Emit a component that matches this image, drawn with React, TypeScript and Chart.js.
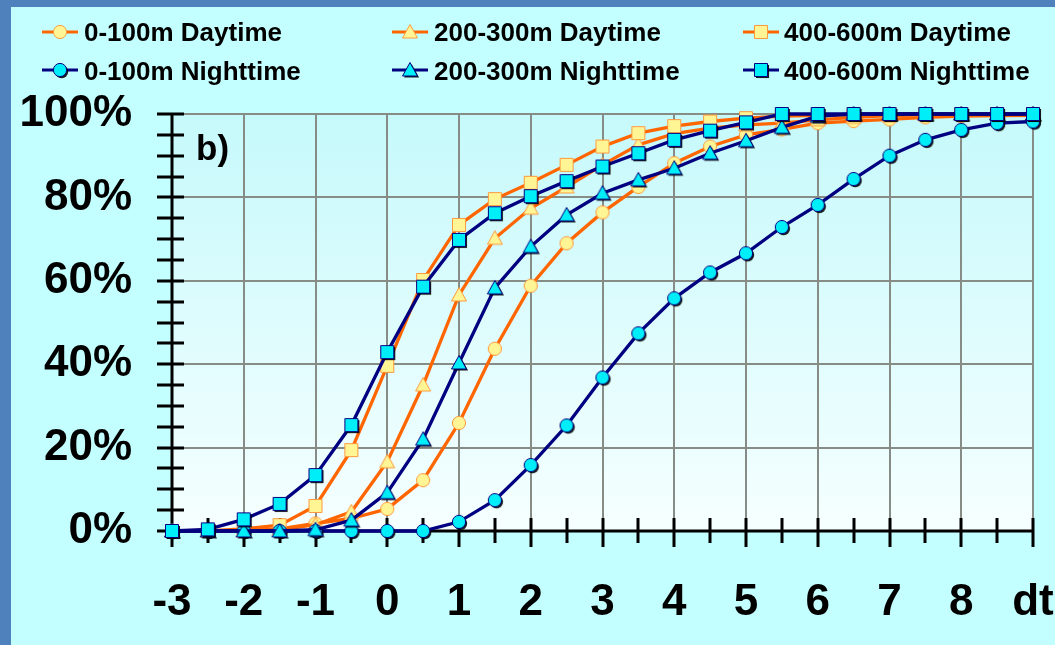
import React, { useEffect, useRef } from "react";
import { Chart, registerables } from "chart.js";

Chart.register(...registerables);

const xValues = [-3, -2.5, -2, -1.5, -1, -0.5, 0, 0.5, 1, 1.5, 2, 2.5, 3, 3.5, 4, 4.5, 5, 5.5, 6, 6.5, 7, 7.5, 8, 8.5, 9];

const day0to100 = [0, 0, 0, 0.5, 1.8, 3, 5.3, 12.2, 25.9, 43.7, 58.8, 69, 76.4, 82.5, 88.2, 92.2, 95, 96.3, 97.8, 98.3, 98.7, 99.2, 99.5, 99.6, 99.7];
const day200to300 = [0, 0, 0, 0.3, 1.5, 4.6, 16.6, 35, 56.6, 70.2, 77.4, 82.5, 87.8, 92.6, 95.3, 96.6, 97.4, 97.8, 98.6, 99.2, 99.6, 99.8, 100, 100, 100];
const day400to600 = [0, 0, 0.5, 1.4, 6, 19.4, 39.6, 60.2, 73.4, 79.6, 83.5, 87.8, 92.2, 95.4, 97.1, 98.2, 99, 99.5, 99.7, 99.8, 100, 100, 100, 100, 100];
const night0to100 = [0, 0, 0, 0, 0, 0, 0, 0, 2.2, 7.4, 15.8, 25.3, 36.8, 47.4, 55.8, 62, 66.6, 72.9, 78.2, 84.4, 90, 93.8, 96.2, 97.8, 98.2];
const night200to300 = [0, 0, 0, 0, 0.3, 2.6, 9.2, 22, 40.3, 58.3, 68.2, 75.8, 81, 84.2, 87, 90.6, 93.6, 96.8, 99.5, 100, 100, 100, 100, 100, 100];
const night400to600 = [0, 0.4, 2.8, 6.5, 13.4, 25.4, 42.9, 58.6, 69.8, 76.2, 80.3, 83.9, 87.4, 90.6, 93.8, 96, 98, 100, 100, 100, 100, 100, 100, 100, 100];

const xTickLabels = ["-3", "-2", "-1", "0", "1", "2", "3", "4", "5", "6", "7", "8", "dt"];
const yTickValues = [0, 20, 40, 60, 80, 100];
const seriesLabels = [
  "0-100m Daytime",
  "200-300m Daytime",
  "400-600m Daytime",
  "0-100m Nighttime",
  "200-300m Nighttime",
  "400-600m Nighttime",
];
const panelLabel = "b)";

const FONT = '"Liberation Sans", Arial, sans-serif';
const ORANGE = "#FF6600";
const NAVY = "#000080";
const DAY_FILL = "#FFF595";
const DAY_STROKE = "#FF9A3C";
const NIGHT_FILL = "#00EEF8";

function makeMarker(shape: string, fill: string, stroke: string, shadow: boolean): HTMLCanvasElement {
  const c = document.createElement("canvas");
  c.width = 26;
  c.height = 26;
  const g = c.getContext("2d")!;
  g.translate(13, 13);
  g.beginPath();
  if (shape === "circle") {
    g.arc(0, 0, 6.6, 0, Math.PI * 2);
  } else if (shape === "square") {
    g.rect(-6.5, -6.5, 13, 13);
  } else {
    g.moveTo(0, -7.5);
    g.lineTo(7.5, 6);
    g.lineTo(-7.5, 6);
    g.closePath();
  }
  if (shadow) {
    g.save();
    g.shadowColor = "rgba(0,0,0,0.9)";
    g.shadowOffsetX = 1.6;
    g.shadowOffsetY = 1.6;
    g.shadowBlur = 0.6;
    g.fillStyle = fill;
    g.fill();
    g.restore();
  } else {
    g.fillStyle = fill;
    g.fill();
  }
  g.lineWidth = 1;
  g.strokeStyle = stroke;
  g.stroke();
  return c;
}

export default function App() {
  const canvasRef = useRef<HTMLCanvasElement | null>(null);

  useEffect(() => {
    if (!canvasRef.current) return;
    Chart.defaults.font.family = FONT;

    const markers = [
      makeMarker("circle", DAY_FILL, DAY_STROKE, false),
      makeMarker("triangle", DAY_FILL, DAY_STROKE, false),
      makeMarker("square", DAY_FILL, DAY_STROKE, false),
      makeMarker("circle", NIGHT_FILL, NAVY, true),
      makeMarker("triangle", NIGHT_FILL, NAVY, true),
      makeMarker("square", NIGHT_FILL, NAVY, true),
    ];
    const seriesValues = [day0to100, day200to300, day400to600, night0to100, night200to300, night400to600];
    const colors = [ORANGE, ORANGE, ORANGE, NAVY, NAVY, NAVY];
    const orders = [5, 4, 3, 2, 1, 0];

    const datasets = seriesValues.map((vals, i) => ({
      label: seriesLabels[i],
      data: vals.map((y, j) => ({ x: xValues[j], y })),
      borderColor: colors[i],
      backgroundColor: colors[i],
      borderWidth: 3.3,
      pointStyle: markers[i],
      pointRadius: 7,
      tension: 0,
      clip: false as any,
      order: orders[i],
    }));

    const backgroundPlugin = {
      id: "bgPlugin",
      beforeDraw(chart: any) {
        const { ctx, width, height, chartArea } = chart;
        ctx.save();
        ctx.fillStyle = "#C4FFFF";
        ctx.fillRect(0, 0, width, height);
        ctx.fillStyle = "#4F81BD";
        ctx.fillRect(0, 0, 11, height);
        ctx.fillRect(0, 0, width, 7);
        const grad = ctx.createLinearGradient(0, chartArea.top, 0, chartArea.bottom);
        grad.addColorStop(0, "#C6F9FB");
        grad.addColorStop(1, "#F6FFFF");
        ctx.fillStyle = grad;
        ctx.fillRect(chartArea.left, chartArea.top, chartArea.right - chartArea.left, chartArea.bottom - chartArea.top);
        ctx.restore();
      },
    };

    const axesPlugin = {
      id: "axesPlugin",
      beforeDatasetsDraw(chart: any) {
        const { ctx, chartArea, scales } = chart;
        const { left, right, top, bottom } = chartArea;
        ctx.save();
        ctx.strokeStyle = "#000";
        ctx.lineWidth = 3;
        ctx.beginPath();
        ctx.moveTo(left, top);
        ctx.lineTo(left, bottom);
        ctx.moveTo(left, bottom);
        ctx.lineTo(right, bottom);
        for (let v = 0; v <= 100; v += 5) {
          const py = Math.round(scales.y.getPixelForValue(v));
          ctx.moveTo(left - 15, py);
          ctx.lineTo(left + 12, py);
        }
        for (let v = -3; v <= 9; v += 0.5) {
          const px = Math.round(scales.x.getPixelForValue(v));
          const major = Number.isInteger(v);
          ctx.moveTo(px, bottom - 13);
          ctx.lineTo(px, bottom + (major ? 16 : 12));
        }
        ctx.stroke();
        ctx.restore();
      },
    };

    const legendPlugin = {
      id: "legendPlugin",
      afterDraw(chart: any) {
        const { ctx } = chart;
        ctx.save();
        const sampleX = [42, 392, 743];
        const textX = [84, 434, 784];
        const lineY = [32, 70];
        const baseY = [41, 80];
        for (let i = 0; i < 6; i++) {
          const col = i % 3;
          const row = Math.floor(i / 3);
          ctx.strokeStyle = colors[i];
          ctx.lineWidth = 3;
          ctx.beginPath();
          ctx.moveTo(sampleX[col], lineY[row]);
          ctx.lineTo(sampleX[col] + 36, lineY[row]);
          ctx.stroke();
          const m = markers[i];
          ctx.drawImage(m, sampleX[col] + 18 - m.width / 2, lineY[row] - m.height / 2);
          ctx.fillStyle = "#000";
          ctx.font = "bold 26px " + FONT;
          ctx.textAlign = "left";
          ctx.textBaseline = "alphabetic";
          ctx.fillText(seriesLabels[i], textX[col], baseY[row]);
        }
        ctx.font = "bold 35px " + FONT;
        ctx.fillText(panelLabel, 196, 160);
        ctx.restore();
      },
    };

    const chart = new Chart(canvasRef.current, {
      type: "line",
      data: { datasets: datasets as any },
      options: {
        animation: false,
        responsive: true,
        maintainAspectRatio: false,
        devicePixelRatio: 1,
        layout: { padding: { top: 114, right: 22, left: 0, bottom: 0 } },
        plugins: { legend: { display: false }, tooltip: { enabled: false } },
        scales: {
          x: {
            type: "linear",
            min: -3,
            max: 9,
            afterBuildTicks: (scale: any) => {
              scale.ticks = xTickLabels.map((_, i) => ({ value: -3 + i }));
            },
            afterFit: (scale: any) => {
              scale.height = 114;
              scale.paddingLeft = 0;
              scale.paddingRight = 0;
            },
            ticks: {
              autoSkip: false,
              maxRotation: 0,
              padding: 45,
              color: "#000",
              font: { size: 44, weight: "bold", family: FONT },
              callback: (_v: any, i: number) => xTickLabels[i],
            },
            grid: {
              drawTicks: false,
              lineWidth: 2,
              color: (c: any) => (c.tick && c.tick.value === -3 ? "rgba(0,0,0,0)" : "#878C87"),
            },
            border: { display: false },
          },
          y: {
            min: 0,
            max: 100,
            afterBuildTicks: (scale: any) => {
              scale.ticks = yTickValues.map((v) => ({ value: v }));
            },
            afterFit: (scale: any) => {
              scale.width = 172;
              scale.paddingTop = 0;
              scale.paddingBottom = 0;
            },
            ticks: {
              padding: 40,
              color: "#000",
              font: { size: 44, weight: "bold", family: FONT },
              callback: (v: any) => v + "%",
            },
            grid: {
              drawTicks: false,
              lineWidth: 2,
              color: (c: any) => (c.tick && c.tick.value === 0 ? "rgba(0,0,0,0)" : "#878C87"),
            },
            border: { display: false },
          },
        },
      } as any,
      plugins: [backgroundPlugin, axesPlugin, legendPlugin],
    });

    return () => {
      chart.destroy();
    };
  }, []);

  return (
    <div style={{ position: "fixed", left: 0, top: 0, width: 1055, height: 645 }}>
      <canvas ref={canvasRef} />
    </div>
  );
}
